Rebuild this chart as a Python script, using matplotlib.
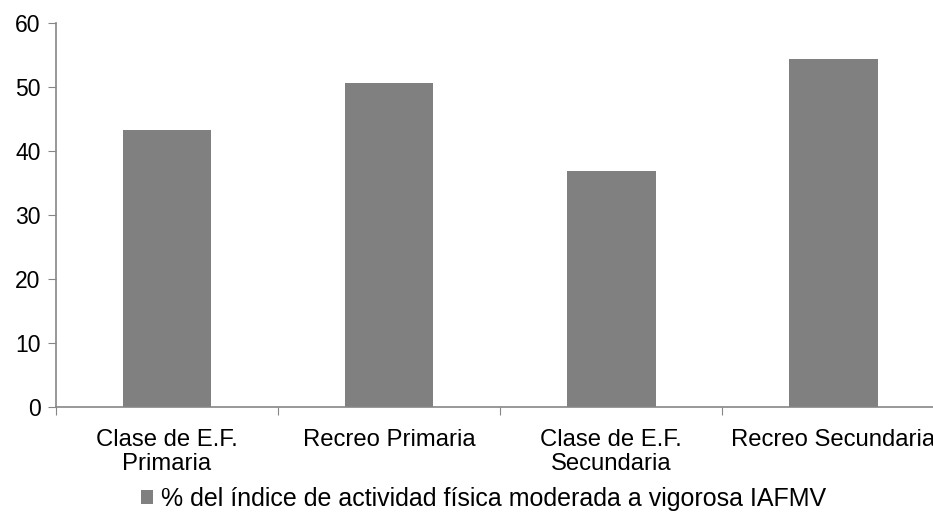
import matplotlib.pyplot as plt
import numpy as np

plt.rcParams['font.family'] = ['Liberation Sans', 'DejaVu Sans']

categorias = ['Clase de E.F.\nPrimaria', 'Recreo Primaria', 'Clase de E.F.\nSecundaria', 'Recreo Secundaria']
valores = [43.3, 50.6, 36.9, 54.4]
serie = '% del índice de actividad física moderada a vigorosa IAFMV'

fig = plt.figure(figsize=(9.33, 5.24), dpi=100)
ax = fig.add_axes([0.060, 0.223, 0.952, 0.7325])

x = np.arange(len(categorias))
ax.bar(x, valores, width=0.4, color='#808080', label=serie)

ax.set_xlim(-0.5, len(categorias) - 0.5)
ax.set_ylim(0, 60)
ax.set_yticks(range(0, 61, 10))

# метки категорий между делениями
ax.set_xticks(np.arange(-0.5, len(categorias), 1.0))
ax.set_xticklabels([])
ax.set_xticks(x, minor=True)
ax.set_xticklabels(categorias, minor=True, fontsize=17.2, linespacing=1.1)
ax.tick_params(axis='x', which='minor', length=0, pad=16)
ax.tick_params(axis='x', which='major', length=6, color='#868686', direction='out')
ax.tick_params(axis='y', length=6, color='#868686', labelsize=16.5, pad=5)

for s in ['top', 'right']:
    ax.spines[s].set_visible(False)
for s in ['left', 'bottom']:
    ax.spines[s].set_color('#868686')
    ax.spines[s].set_linewidth(1.2)

fig.legend(loc='center', bbox_to_anchor=(0.518, 0.048), frameon=False, fontsize=18,
           handlelength=0.5, handleheight=0.5, handletextpad=0.3)

plt.savefig('out.png', dpi=100)
